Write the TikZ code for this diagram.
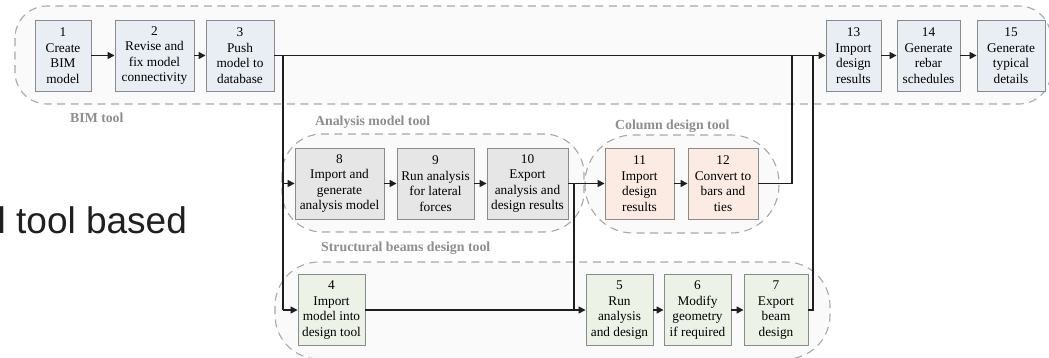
\documentclass[tikz,border=0pt]{standalone}
\usepackage{fontspec}
\setmainfont{Liberation Serif}
\newfontfamily\slidefont{Liberation Sans}
\usetikzlibrary{arrows.meta}

\definecolor{boxline}{HTML}{8A8A8A}
\definecolor{bimfill}{HTML}{E9EEF5}
\definecolor{anafill}{HTML}{E6E6E6}
\definecolor{colfill}{HTML}{FBEBE3}
\definecolor{beamfill}{HTML}{EDF2E7}
\definecolor{zoneline}{HTML}{A8A8A8}
\definecolor{zonefill}{HTML}{FAFAFA}
\definecolor{zonetext}{HTML}{8E8E8E}
\definecolor{flow}{HTML}{1E1E1E}

\tikzset{
  proc/.style={draw=boxline, line width=0.9pt, align=center, inner sep=0pt,
    minimum height=71pt, font=\fontsize{13.3}{15.5}\selectfont},
  zone/.style={draw=zoneline, line width=1.1pt, dash pattern=on 8pt off 5.5pt, fill=zonefill},
  zonelabel/.style={text=zonetext, font=\fontsize{13.8}{15}\selectfont\bfseries, anchor=west, inner sep=0pt},
  link/.style={draw=flow, line width=1.5pt},
  arrowlink/.style={link, -{Triangle[length=7pt,width=7pt]}}
}

\begin{document}
\begin{tikzpicture}[x=1pt,y=-1pt]
  \useasboundingbox (0,0) rectangle (1049,357);
  \fill[white] (0,0) rectangle (1049,357);

  % tool zones
  \begin{scope}
    \clip (0,0) rectangle (1049,357);
    \draw[zone, rounded corners=32pt] (15,6) rectangle (1051,104);
    \draw[zone, rounded corners=40pt] (282,134) rectangle (584,232);
    \draw[zone, rounded corners=48pt] (585,135) rectangle (779,233);
    \draw[zone, rounded corners=44pt] (275,262) rectangle (830,359);
  \end{scope}

  \node[zonelabel] (lbim) at (70,118) {BIM tool};
  \node[zonelabel] (lana) at (315,122) {Analysis model tool};
  \node[zonelabel] (lcol) at (615,126) {Column design tool};
  \node[zonelabel] (lbeam) at (321,248) {Structural beams design tool};

  % slide text partly covered by the figure
  \node[anchor=base west, inner sep=0pt, text=black!88, font=\slidefont\fontsize{37}{42}\selectfont] (slide) at (-2.5,233) {l tool based};

  % BIM tool steps
  \node[proc, fill=bimfill, minimum width=56pt] (b1) at (63,55.5) {1\\Create\\BIM\\model};
  \node[proc, fill=bimfill, minimum width=79pt] (b2) at (154.5,55.5) {2\\Revise and\\fix model\\connectivity};
  \node[proc, fill=bimfill, minimum width=68pt] (b3) at (240,55.5) {3\\Push\\model to\\database};
  \node[proc, fill=bimfill, minimum width=55pt] (b13) at (853.5,55.5) {13\\Import\\design\\results};
  \node[proc, fill=bimfill, minimum width=63pt] (b14) at (928.5,55.5) {14\\Generate\\rebar\\schedules};
  \node[proc, fill=bimfill, minimum width=68pt] (b15) at (1011,55.5) {15\\Generate\\typical\\details};

  % analysis model tool steps
  \node[proc, fill=anafill, minimum width=89pt] (b8) at (339.5,183.5) {8\\Import and\\generate\\analysis model};
  \node[proc, fill=anafill, minimum width=77pt] (b9) at (435.5,183.5) {9\\Run analysis\\for lateral\\forces};
  \node[proc, fill=anafill, minimum width=81pt] (b10) at (527.5,183.5) {10\\Export\\analysis and\\design results};

  % column design tool steps
  \node[proc, fill=colfill, minimum width=69pt] (b11) at (639.5,183.5) {11\\Import\\design\\results};
  \node[proc, fill=colfill, minimum width=70pt] (b12) at (723,183.5) {12\\Convert to\\bars and\\ties};

  % structural beams design tool steps
  \node[proc, fill=beamfill, minimum width=67pt] (b4) at (331.5,310) {4\\Import\\model into\\design tool};
  \node[proc, fill=beamfill, minimum width=67pt] (b5) at (619.5,310) {5\\Run\\analysis\\and design};
  \node[proc, fill=beamfill, minimum width=67pt] (b6) at (697.5,310) {6\\Modify\\geometry\\if required};
  \node[proc, fill=beamfill, minimum width=64pt] (b7) at (776,310) {7\\Export\\beam\\design};

  % junction points
  \coordinate (split) at (283,55.5);
  \coordinate (splitmid) at (283,183.5);
  \coordinate (splitlow) at (283,310);
  \coordinate (expfork) at (574,183.5);
  \coordinate (beammerge) at (574,310);
  \coordinate (colturn) at (792,183.5);
  \coordinate (coljoin) at (792,55.5);
  \coordinate (beamturn) at (813,310);
  \coordinate (beamjoin) at (813,55.5);

  % flow within the BIM tool
  \draw[arrowlink] (b1) -- (b2);
  \draw[arrowlink] (b2) -- (b3);
  \draw[arrowlink] (b3) -- (b13);
  \draw[arrowlink] (b13) -- (b14);
  \draw[arrowlink] (b14) -- (b15);

  % model pushed down to analysis and beam tools
  \draw[link] (split) -- (splitlow);
  \draw[arrowlink] (splitmid) -- (b8);
  \draw[arrowlink] (splitlow) -- (b4);

  % analysis chain
  \draw[arrowlink] (b8) -- (b9);
  \draw[arrowlink] (b9) -- (b10);
  \draw[arrowlink] (b10) -- (b11);
  \draw[link] (expfork) -- (beammerge);

  % column chain and return to BIM
  \draw[arrowlink] (b11) -- (b12);
  \draw[link] (b12) -- (colturn) -- (coljoin);

  % beam chain and return to BIM
  \draw[link] (b4) -- (beammerge);
  \draw[arrowlink] (beammerge) -- (b5);
  \draw[arrowlink] (b5) -- (b6);
  \draw[arrowlink] (b6) -- (b7);
  \draw[link] (b7) -- (beamturn) -- (beamjoin);
\end{tikzpicture}
\end{document}
